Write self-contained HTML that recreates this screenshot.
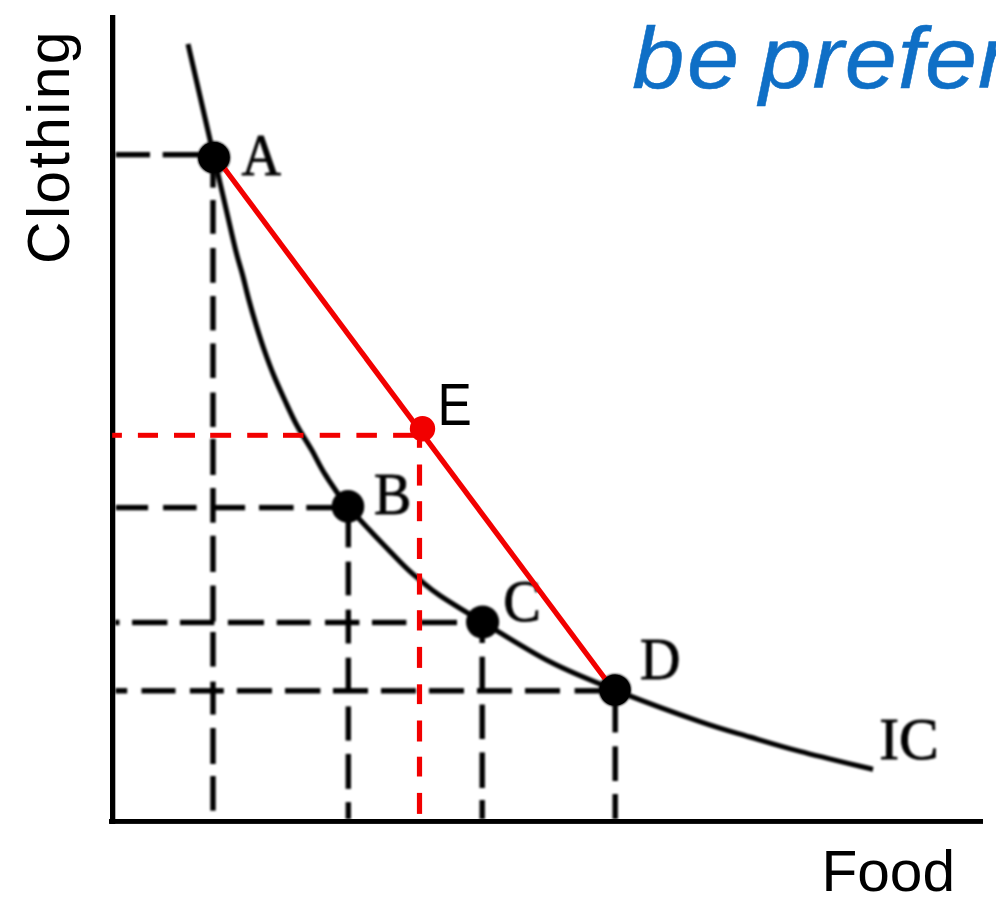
<!DOCTYPE html>
<html><head><meta charset="utf-8"><style>
html,body{margin:0;padding:0;background:#fff;width:996px;height:899px;overflow:hidden}
svg{display:block}
</style></head><body>
<svg width="996" height="899" viewBox="0 0 996 899">
<defs><filter id="b" x="-5%" y="-5%" width="110%" height="110%"><feGaussianBlur stdDeviation="0.9"/></filter></defs>
<rect width="996" height="899" fill="#fff"/>
<g filter="url(#b)">
<rect x="115.7" y="152.0" width="34.3" height="5.4" fill="#000"/>
<rect x="162.7" y="152.0" width="51.3" height="5.4" fill="#000"/>
<rect x="115.8" y="504.9" width="32.3" height="5.4" fill="#000"/>
<rect x="163.1" y="504.9" width="33.5" height="5.4" fill="#000"/>
<rect x="211.6" y="504.9" width="33.5" height="5.4" fill="#000"/>
<rect x="259.0" y="504.9" width="34.6" height="5.4" fill="#000"/>
<rect x="306.3" y="504.9" width="41.7" height="5.4" fill="#000"/>
<rect x="115.0" y="619.8" width="4.5" height="5.4" fill="#000"/>
<rect x="132.1" y="619.8" width="35.3" height="5.4" fill="#000"/>
<rect x="180.0" y="619.8" width="34.3" height="5.4" fill="#000"/>
<rect x="227.9" y="619.8" width="36.1" height="5.4" fill="#000"/>
<rect x="276.7" y="619.8" width="33.9" height="5.4" fill="#000"/>
<rect x="325.0" y="619.8" width="34.4" height="5.4" fill="#000"/>
<rect x="372.0" y="619.8" width="34.4" height="5.4" fill="#000"/>
<rect x="420.8" y="619.8" width="36.2" height="5.4" fill="#000"/>
<rect x="115.4" y="688.1" width="11.8" height="5.4" fill="#000"/>
<rect x="141.5" y="688.1" width="34.0" height="5.4" fill="#000"/>
<rect x="189.9" y="688.1" width="33.9" height="5.4" fill="#000"/>
<rect x="236.9" y="688.1" width="35.1" height="5.4" fill="#000"/>
<rect x="285.0" y="688.1" width="35.4" height="5.4" fill="#000"/>
<rect x="333.0" y="688.1" width="35.0" height="5.4" fill="#000"/>
<rect x="381.0" y="688.1" width="35.0" height="5.4" fill="#000"/>
<rect x="429.0" y="688.1" width="35.0" height="5.4" fill="#000"/>
<rect x="477.0" y="688.1" width="35.0" height="5.4" fill="#000"/>
<rect x="525.0" y="688.1" width="35.0" height="5.4" fill="#000"/>
<rect x="574.6" y="688.1" width="40.4" height="5.4" fill="#000"/>
<rect x="210.3" y="157.0" width="5.4" height="30.6" fill="#000"/>
<rect x="210.3" y="200.0" width="5.4" height="33.8" fill="#000"/>
<rect x="210.3" y="248.0" width="5.4" height="34.8" fill="#000"/>
<rect x="210.3" y="296.0" width="5.4" height="34.4" fill="#000"/>
<rect x="210.3" y="343.4" width="5.4" height="34.6" fill="#000"/>
<rect x="210.3" y="392.5" width="5.4" height="34.5" fill="#000"/>
<rect x="210.3" y="438.8" width="5.4" height="36.2" fill="#000"/>
<rect x="210.3" y="488.0" width="5.4" height="34.7" fill="#000"/>
<rect x="210.3" y="535.7" width="5.4" height="36.3" fill="#000"/>
<rect x="210.3" y="585.5" width="5.4" height="36.1" fill="#000"/>
<rect x="210.3" y="632.0" width="5.4" height="34.6" fill="#000"/>
<rect x="210.3" y="681.6" width="5.4" height="33.0" fill="#000"/>
<rect x="210.3" y="728.0" width="5.4" height="36.0" fill="#000"/>
<rect x="210.3" y="776.0" width="5.4" height="34.7" fill="#000"/>
<rect x="345.6" y="506.0" width="5.4" height="41.4" fill="#000"/>
<rect x="345.6" y="561.6" width="5.4" height="33.8" fill="#000"/>
<rect x="345.6" y="609.6" width="5.4" height="33.9" fill="#000"/>
<rect x="345.6" y="657.7" width="5.4" height="33.8" fill="#000"/>
<rect x="345.6" y="706.4" width="5.4" height="34.2" fill="#000"/>
<rect x="345.6" y="753.9" width="5.4" height="35.0" fill="#000"/>
<rect x="345.6" y="802.1" width="5.4" height="16.9" fill="#000"/>
<rect x="479.5" y="622.0" width="5.4" height="21.0" fill="#000"/>
<rect x="479.5" y="656.7" width="5.4" height="33.3" fill="#000"/>
<rect x="479.5" y="704.5" width="5.4" height="34.5" fill="#000"/>
<rect x="479.5" y="752.4" width="5.4" height="35.6" fill="#000"/>
<rect x="479.5" y="800.0" width="5.4" height="19.0" fill="#000"/>
<rect x="612.5" y="690.0" width="5.4" height="42.5" fill="#000"/>
<rect x="612.5" y="746.3" width="5.4" height="34.7" fill="#000"/>
<rect x="612.5" y="794.0" width="5.4" height="25.0" fill="#000"/>
<path d="M188,44 C192.33,62.83 208.00,131.00 214,157 C220.00,183.00 220.40,184.50 224,200 C227.60,215.50 232.50,237.50 235.6,250 C238.70,262.50 240.38,266.67 242.6,275 C244.82,283.33 246.65,291.67 248.9,300 C251.15,308.33 253.55,316.67 256.1,325 C258.65,333.33 261.28,341.67 264.2,350 C267.12,358.33 270.18,366.67 273.6,375 C277.02,383.33 280.85,391.67 284.7,400 C288.55,408.33 292.20,416.67 296.7,425 C301.20,433.33 306.90,441.67 311.7,450 C316.50,458.33 319.45,465.60 325.5,475 C331.55,484.40 335.58,491.95 348,506.4 C360.42,520.85 388.00,549.43 400,561.7 C412.00,573.97 413.33,574.35 420,580 C426.67,585.65 429.57,588.60 440,595.6 C450.43,602.60 464.27,610.97 482.6,622 C500.93,633.03 527.93,650.47 550,661.8 C572.07,673.13 590.00,680.03 615,690 C640.00,699.97 677.50,713.77 700,721.6 C722.50,729.43 733.33,732.03 750,737 C766.67,741.97 779.50,745.98 800,751.4 C820.50,756.82 860.83,766.48 873,769.5" fill="none" stroke="#000" stroke-width="5.1" stroke-linecap="butt"/>
<circle cx="214" cy="157.5" r="16.3" fill="#000"/>
<circle cx="348" cy="506.4" r="16.3" fill="#000"/>
<circle cx="482.6" cy="622" r="16.6" fill="#000"/>
<circle cx="615" cy="690" r="16.1" fill="#000"/>
<text transform="translate(241.4,175.2) scale(0.92,1)" font-family="Liberation Serif" font-size="59.5" stroke="#000" stroke-width="0.9">A</text>
<text transform="translate(373.9,514) scale(0.94,1)" font-family="Liberation Serif" font-size="59.5" stroke="#000" stroke-width="0.9">B</text>
<text transform="translate(503.3,621) scale(0.95,1)" font-family="Liberation Serif" font-size="59.5" stroke="#000" stroke-width="0.9">C</text>
<text transform="translate(640,678.7) scale(0.94,1)" font-family="Liberation Serif" font-size="59.5" stroke="#000" stroke-width="0.9">D</text>
<text transform="translate(879.2,758.6) scale(1.0,1)" font-family="Liberation Serif" font-size="59.5" stroke="#000" stroke-width="0.9">IC</text>
</g>
<rect x="110.0" y="15.0" width="5.3" height="809.0" fill="#000"/>
<rect x="109.0" y="819.0" width="874.0" height="4.9" fill="#000"/>
<rect x="112.2" y="432.8" width="9.7" height="5.0" fill="#F20000"/>
<rect x="137.9" y="432.8" width="20.1" height="5.0" fill="#F20000"/>
<rect x="174.0" y="432.8" width="21.0" height="5.0" fill="#F20000"/>
<rect x="210.2" y="432.8" width="20.9" height="5.0" fill="#F20000"/>
<rect x="247.2" y="432.8" width="20.5" height="5.0" fill="#F20000"/>
<rect x="283.0" y="432.8" width="20.5" height="5.0" fill="#F20000"/>
<rect x="319.7" y="432.8" width="20.5" height="5.0" fill="#F20000"/>
<rect x="356.4" y="432.8" width="20.5" height="5.0" fill="#F20000"/>
<rect x="393.1" y="432.8" width="28.9" height="5.0" fill="#F20000"/>
<rect x="416.9" y="429.0" width="5.2" height="18.8" fill="#F20000"/>
<rect x="416.9" y="464.5" width="5.2" height="21.1" fill="#F20000"/>
<rect x="416.9" y="501.2" width="5.2" height="20.0" fill="#F20000"/>
<rect x="416.9" y="537.9" width="5.2" height="21.1" fill="#F20000"/>
<rect x="416.9" y="573.5" width="5.2" height="21.1" fill="#F20000"/>
<rect x="416.9" y="610.2" width="5.2" height="20.3" fill="#F20000"/>
<rect x="416.9" y="646.9" width="5.2" height="21.0" fill="#F20000"/>
<rect x="416.9" y="684.3" width="5.2" height="19.8" fill="#F20000"/>
<rect x="416.9" y="720.5" width="5.2" height="21.0" fill="#F20000"/>
<rect x="416.9" y="756.7" width="5.2" height="19.8" fill="#F20000"/>
<rect x="416.9" y="792.9" width="5.2" height="21.0" fill="#F20000"/>
<line x1="215.9" y1="157" x2="613.5" y2="690" stroke="#F20000" stroke-width="5.3"/>
<circle cx="214" cy="157.5" r="15.6" fill="#000"/>
<circle cx="615" cy="690" r="15.4" fill="#000"/>
<circle cx="422.5" cy="428.8" r="12.7" fill="#F20000"/>
<text transform="translate(437.6,425) scale(0.86,1)" font-family="Liberation Sans" font-size="59.8">E</text>
<text transform="translate(821.4,891.2) scale(1.02,1)" font-family="Liberation Sans" font-size="57.5">Food</text>
<text transform="translate(68.7,264) rotate(-90)" font-family="Liberation Sans" font-size="59" letter-spacing="2.3">Clothing</text>
<text transform="translate(632.2,88) scale(1.065,1)" font-family="Liberation Sans" font-size="88" font-style="italic" fill="#0F6FC6" stroke="#0F6FC6" stroke-width="0.5" letter-spacing="2.5">be</text>
<text transform="translate(759.2,88) scale(1.065,1)" font-family="Liberation Sans" font-size="88" font-style="italic" fill="#0F6FC6" stroke="#0F6FC6" stroke-width="0.5" letter-spacing="1">prefer</text>
</svg>
</body></html>
